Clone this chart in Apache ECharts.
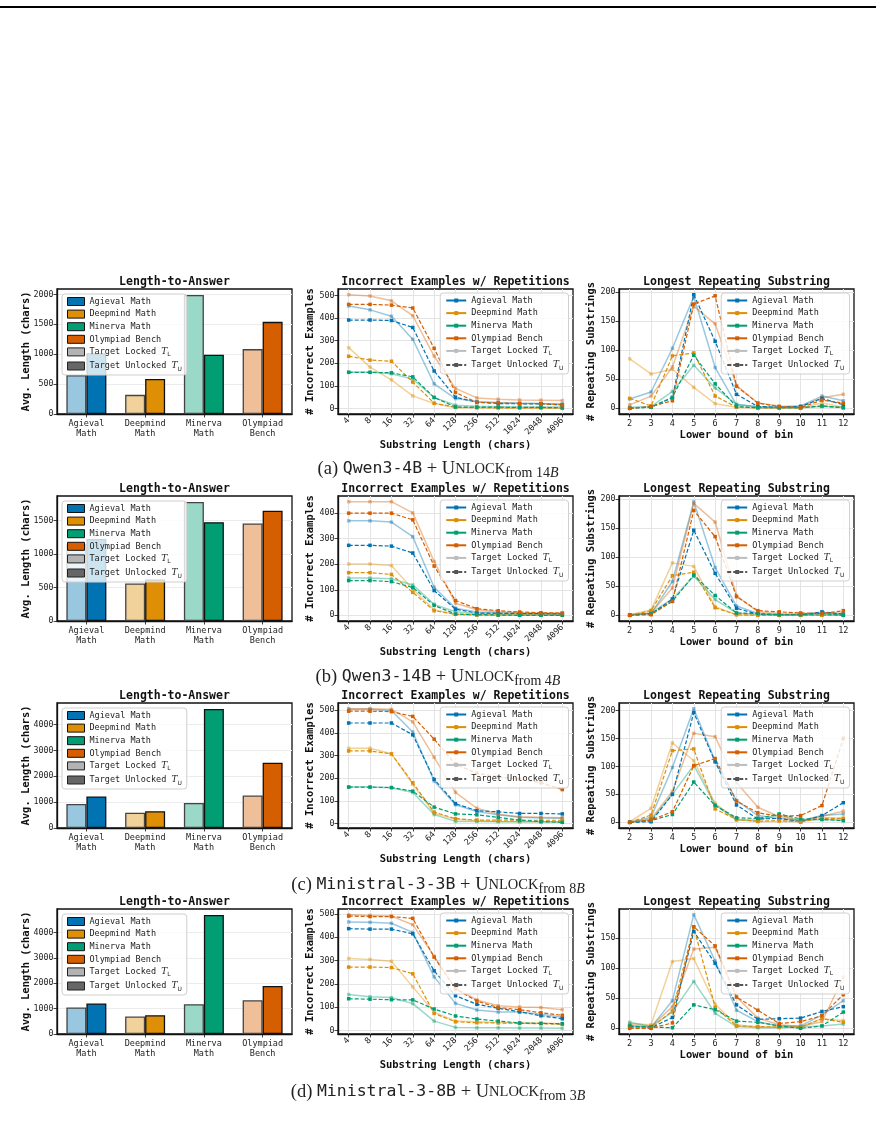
<!DOCTYPE html>
<html><head><meta charset="UTF-8">
<title>unlock-repetitions</title>
<script src="https://cdn.jsdelivr.net/npm/echarts@6/dist/echarts.min.js"></script>
<style>html,body{margin:0;padding:0;background:#fff}#chart{width:876px;height:1121px}</style>
</head>
<body>
<div id="chart"></div>
<script>
// ---- data ----
const benchNames = ['Agieval Math', 'Deepmind Math', 'Minerva Math', 'Olympiad Bench'];
const barCats = ['Agieval\nMath', 'Deepmind\nMath', 'Minerva\nMath', 'Olympiad\nBench'];
const substrLens = ['4', '8', '16', '32', '64', '128', '256', '512', '1024', '2048', '4096'];
const binLows = ['2', '3', '4', '5', '6', '7', '8', '9', '10', '11', '12'];

// length-to-answer (locked / unlocked), order = benchNames
const lenA_L = [650, 320, 1990, 1085];
const lenA_U = [1015, 585, 990, 1540];
const lenB_L = [1150, 560, 1776, 1455];
const lenB_U = [1225, 620, 1475, 1645];
const lenC_L = [932, 595, 971, 1256];
const lenC_U = [1217, 647, 4608, 2524];
const lenD_L = [1043, 686, 1175, 1333];
const lenD_U = [1201, 739, 4686, 1888];

// incorrect examples w/ repetitions, x = substrLens
const incA_ag_L = [453, 436, 408, 306, 109, 44, 31, 27, 24, 22, 21];
const incA_ag_U = [391, 391, 389, 358, 166, 50, 28, 22, 21, 21, 16];
const incA_dm_L = [269, 183, 127, 56, 22, 4, 3, 2, 1, 1, 1];
const incA_dm_U = [231, 214, 209, 117, 24, 6, 4, 3, 3, 3, 2];
const incA_mi_L = [161, 160, 154, 130, 49, 15, 10, 9, 7, 7, 7];
const incA_mi_U = [160, 160, 158, 140, 49, 7, 6, 6, 5, 5, 3];
const incA_ol_L = [503, 497, 476, 410, 232, 89, 47, 41, 38, 37, 35];
const incA_ol_U = [460, 460, 457, 444, 266, 71, 27, 25, 22, 21, 16];

const incB_ag_L = [370, 370, 365, 308, 110, 28, 13, 10, 8, 7, 7];
const incB_ag_U = [274, 274, 271, 244, 97, 24, 9, 8, 7, 7, 5];
const incB_dm_L = [201, 201, 195, 102, 22, 4, 1, 1, 1, 1, 1];
const incB_dm_U = [167, 167, 160, 90, 18, 4, 1, 1, 1, 1, 1];
const incB_mi_L = [146, 146, 143, 119, 43, 14, 7, 4, 3, 3, 1];
const incB_mi_U = [136, 136, 132, 109, 39, 5, 3, 1, 0, 0, 0];
const incB_ol_L = [445, 445, 445, 401, 211, 47, 22, 14, 10, 8, 8];
const incB_ol_U = [400, 400, 400, 374, 193, 58, 26, 18, 13, 10, 9];

const incC_ag_L = [503, 503, 498, 403, 188, 83, 54, 39, 28, 25, 24];
const incC_ag_U = [443, 443, 443, 391, 195, 88, 57, 52, 45, 45, 43];
const incC_dm_L = [332, 332, 308, 173, 46, 19, 13, 10, 9, 9, 8];
const incC_dm_U = [320, 320, 307, 180, 51, 22, 16, 16, 15, 15, 15];
const incC_mi_L = [162, 161, 158, 137, 40, 10, 10, 9, 8, 8, 7];
const incC_mi_U = [161, 161, 159, 143, 73, 43, 39, 28, 16, 9, 6];
const incC_ol_L = [506, 506, 503, 448, 292, 138, 68, 42, 31, 28, 26];
const incC_ol_U = [495, 495, 493, 472, 372, 262, 222, 206, 196, 180, 150];

const incD_ag_L = [466, 464, 460, 421, 230, 116, 88, 79, 79, 69, 57];
const incD_ag_U = [437, 435, 435, 415, 256, 149, 112, 95, 80, 63, 50];
const incD_dm_L = [309, 305, 297, 187, 78, 40, 37, 34, 33, 32, 29];
const incD_dm_U = [272, 272, 270, 243, 73, 37, 33, 32, 30, 29, 26];
const incD_mi_L = [154, 145, 141, 115, 40, 13, 11, 11, 10, 10, 9];
const incD_mi_U = [136, 134, 132, 131, 92, 62, 49, 40, 32, 30, 29];
const incD_ol_L = [497, 494, 491, 454, 318, 181, 131, 106, 101, 98, 89];
const incD_ol_U = [491, 489, 489, 481, 315, 178, 126, 98, 89, 76, 65];

// longest repeating substring, x = binLows
const lrsA_ag_L = [16, 28, 103, 192, 70, 6, 3, 2, 4, 21, 13];
const lrsA_ag_U = [0, 2, 18, 195, 115, 24, 3, 2, 3, 17, 6];
const lrsA_dm_L = [85, 59, 67, 36, 8, 2, 0, 0, 0, 9, 2];
const lrsA_dm_U = [17, 4, 90, 95, 21, 2, 1, 1, 1, 4, 1];
const lrsA_mi_L = [2, 3, 29, 74, 35, 7, 2, 1, 1, 3, 2];
const lrsA_mi_U = [0, 2, 19, 91, 42, 3, 1, 1, 1, 4, 1];
const lrsA_ol_L = [6, 21, 71, 175, 145, 39, 9, 4, 3, 18, 24];
const lrsA_ol_U = [0, 3, 13, 179, 193, 38, 9, 3, 1, 14, 9];

const lrsB_ag_L = [1, 3, 58, 195, 82, 16, 3, 1, 1, 5, 2];
const lrsB_ag_U = [1, 2, 28, 146, 72, 12, 2, 1, 1, 6, 2];
const lrsB_dm_L = [1, 9, 90, 84, 15, 1, 0, 0, 0, 0, 0];
const lrsB_dm_U = [0, 8, 68, 74, 13, 1, 0, 0, 0, 0, 0];
const lrsB_mi_L = [0, 4, 28, 67, 27, 4, 2, 1, 1, 1, 1];
const lrsB_mi_U = [0, 3, 24, 69, 34, 4, 3, 1, 1, 3, 0];
const lrsB_ol_L = [1, 4, 47, 192, 160, 34, 6, 3, 3, 3, 4];
const lrsB_ol_U = [0, 1, 24, 180, 135, 32, 8, 6, 4, 3, 8];

const lrsC_ag_L = [0, 9, 98, 203, 110, 39, 12, 7, 3, 12, 15];
const lrsC_ag_U = [0, 1, 50, 196, 108, 31, 6, 7, 1, 12, 35];
const lrsC_dm_L = [1, 25, 142, 110, 34, 5, 1, 2, 1, 9, 7];
const lrsC_dm_U = [0, 13, 128, 131, 24, 5, 2, 3, 1, 7, 7];
const lrsC_mi_L = [0, 4, 50, 102, 31, 4, 4, 13, 3, 5, 4];
const lrsC_mi_U = [0, 3, 14, 72, 30, 8, 7, 15, 6, 5, 3];
const lrsC_ol_L = [0, 6, 55, 159, 153, 71, 27, 10, 3, 11, 20];
const lrsC_ol_U = [0, 4, 19, 101, 114, 38, 17, 11, 12, 30, 150];

const lrsD_ag_L = [3, 2, 46, 189, 112, 30, 11, 4, 4, 22, 46];
const lrsD_ag_U = [3, 1, 18, 161, 108, 39, 15, 16, 17, 28, 36];
const lrsD_dm_L = [8, 6, 111, 116, 40, 6, 2, 3, 2, 16, 13];
const lrsD_dm_U = [1, 1, 29, 168, 35, 4, 3, 2, 2, 16, 10];
const lrsD_mi_L = [10, 3, 27, 78, 25, 3, 1, 1, 2, 4, 7];
const lrsD_mi_U = [4, 2, 1, 39, 31, 12, 10, 4, 0, 4, 27];
const lrsD_ol_L = [6, 3, 36, 132, 135, 52, 17, 6, 3, 11, 85];
const lrsD_ol_U = [0, 0, 9, 169, 137, 52, 30, 8, 11, 21, 56];

const rowTags = ['a', 'b', 'c', 'd'];
const rowModels = ['Qwen3-4B', 'Qwen3-14B', 'Ministral-3-3B', 'Ministral-3-8B'];
const rowFrom = ['14', '4', '8', '3'];

const rows = [
    { lenL: lenA_L, lenU: lenA_U, lenStep: 500,
      incL: [incA_ag_L, incA_dm_L, incA_mi_L, incA_ol_L], incU: [incA_ag_U, incA_dm_U, incA_mi_U, incA_ol_U],
      lrsL: [lrsA_ag_L, lrsA_dm_L, lrsA_mi_L, lrsA_ol_L], lrsU: [lrsA_ag_U, lrsA_dm_U, lrsA_mi_U, lrsA_ol_U] },
    { lenL: lenB_L, lenU: lenB_U, lenStep: 500,
      incL: [incB_ag_L, incB_dm_L, incB_mi_L, incB_ol_L], incU: [incB_ag_U, incB_dm_U, incB_mi_U, incB_ol_U],
      lrsL: [lrsB_ag_L, lrsB_dm_L, lrsB_mi_L, lrsB_ol_L], lrsU: [lrsB_ag_U, lrsB_dm_U, lrsB_mi_U, lrsB_ol_U] },
    { lenL: lenC_L, lenU: lenC_U, lenStep: 1000,
      incL: [incC_ag_L, incC_dm_L, incC_mi_L, incC_ol_L], incU: [incC_ag_U, incC_dm_U, incC_mi_U, incC_ol_U],
      lrsL: [lrsC_ag_L, lrsC_dm_L, lrsC_mi_L, lrsC_ol_L], lrsU: [lrsC_ag_U, lrsC_dm_U, lrsC_mi_U, lrsC_ol_U] },
    { lenL: lenD_L, lenU: lenD_U, lenStep: 1000,
      incL: [incD_ag_L, incD_dm_L, incD_mi_L, incD_ol_L], incU: [incD_ag_U, incD_dm_U, incD_mi_U, incD_ol_U],
      lrsL: [lrsD_ag_L, lrsD_dm_L, lrsD_mi_L, lrsD_ol_L], lrsU: [lrsD_ag_U, lrsD_dm_U, lrsD_mi_U, lrsD_ol_U] }
];

// ---- layout / style ----
const colors = ['#0173b2', '#de8f05', '#029e73', '#d55e00'];
const lightColors = ['#99c7e0', '#f2d29b', '#9ad8c7', '#eebf99'];
const mono = 'DejaVu Sans Mono';
const rowTop = [289, 496, 703, 909];
const colLeft = [57, 338, 619];
const plotW = 235, plotH = 125;
const captionY = [469, 677, 885, 1092];
const gridColor = '#e4e4e4';

const chart = echarts.init(document.getElementById('chart'));

// matplotlib style 5% margins
function padRange(arrs) {
    const all = [].concat(...arrs);
    const lo = Math.min(...all), hi = Math.max(...all);
    const pad = (hi - lo) * 0.05;
    return [lo - pad, hi + pad];
}
const plainNum = v => String(Math.round(v * 100) / 100);

const tLabel = { fontFamily: mono, fontSize: 8.5, color: '#222' };
const yLabel = { fontFamily: mono, fontSize: 8.3, color: '#222' };
const axName = { fontFamily: mono, fontSize: 10.5, fontWeight: 'bold', color: '#111' };
const richT = {
    t: { fontFamily: 'DejaVu Serif', fontStyle: 'italic', fontSize: 9, color: '#222' },
    s: { fontFamily: 'DejaVu Sans', fontSize: 6, color: '#222', verticalAlign: 'bottom', lineHeight: 12 }
};
const legendFmt = name => name === 'Target Locked' ? 'Target Locked {t|T}{s|L}'
    : name === 'Target Unlocked' ? 'Target Unlocked {t|T}{s|U}' : name;
const legendBase = {
    orient: 'vertical', selectedMode: false, itemGap: 3.6,
    padding: [3, 5, 3, 5], backgroundColor: 'rgba(255,255,255,0.8)',
    borderColor: '#cfcfcf', borderWidth: 1, borderRadius: 3,
    textStyle: Object.assign({}, tLabel, { rich: richT }), formatter: legendFmt
};

const grids = [], xAxes = [], yAxes = [], series = [], legends = [], graphics = [];

graphics.push({ type: 'line', shape: { x1: 0, y1: 7, x2: 876, y2: 7 }, style: { stroke: '#000', lineWidth: 2 } });

function addGrid(r, c) {
    grids.push({ left: colLeft[c], top: rowTop[r], width: plotW, height: plotH,
        show: true, borderColor: '#111', borderWidth: 1.3, backgroundColor: 'transparent' });
}
function addTitle(r, c, text) {
    graphics.push({ type: 'text', x: colLeft[c] + plotW / 2, y: rowTop[r] - 6.5, z: 10,
        style: { text: text, fill: '#111', font: 'bold 11.5px "DejaVu Sans Mono"', align: 'center', verticalAlign: 'middle' } });
}
function valueAxis(p, range, name, gap, extra) {
    return Object.assign({
        type: 'value', gridIndex: p, min: range[0], max: range[1], splitNumber: 5,
        name: name, nameLocation: 'middle', nameGap: gap, nameMoveOverlap: false, nameTextStyle: axName,
        axisLine: { show: true, lineStyle: { color: '#111', width: 1.3 } },
        axisTick: { show: true, length: 3.5, lineStyle: { color: '#111', width: 0.8 } },
        axisLabel: Object.assign({ margin: 3.5, showMinLabel: false, showMaxLabel: false, formatter: plainNum }, yLabel),
        splitLine: { show: true, showMinLine: false, showMaxLine: false, lineStyle: { color: gridColor, width: 1 } }
    }, extra || {});
}
function catAxis(p, data, name, gap, rotate) {
    return {
        type: 'category', gridIndex: p, data: data,
        name: name, nameLocation: 'middle', nameGap: gap, nameTextStyle: axName,
        axisLine: { show: true, onZero: false, lineStyle: { color: '#111', width: 1.3 } },
        axisTick: { show: true, alignWithLabel: true, interval: 0, length: 3.5, lineStyle: { color: '#111', width: 0.8 } },
        axisLabel: Object.assign({ interval: 0, rotate: rotate || 0, margin: 5, lineHeight: 10 }, tLabel),
        splitLine: { show: !!name, interval: 0, alignWithLabel: true, lineStyle: { color: gridColor, width: 1 } }
    };
}
function addLines(p, lockedArrs, unlockedArrs) {
    lockedArrs.forEach((arr, i) => series.push({
        type: 'line', name: 'L' + p + '_' + i, xAxisIndex: p, yAxisIndex: p, data: arr, silent: true, z: 2,
        symbol: 'rect', symbolSize: 3.5,
        lineStyle: { color: colors[i], width: 1.5, opacity: 0.4 }, itemStyle: { color: colors[i], opacity: 0.4 }
    }));
    unlockedArrs.forEach((arr, i) => series.push({
        type: 'line', name: 'U' + p + '_' + i, xAxisIndex: p, yAxisIndex: p, data: arr, silent: true, z: 3,
        symbol: 'rect', symbolSize: 3.5,
        lineStyle: { color: colors[i], width: 1.2, type: [4, 2] }, itemStyle: { color: colors[i] }
    }));
}
const legendNames = benchNames.concat(['Target Locked', 'Target Unlocked']);

rows.forEach((row, r) => {
    // --- length-to-answer bars
    let p = r * 3;
    addGrid(r, 0);
    addTitle(r, 0, 'Length-to-Answer');
    const barMax = Math.max(...row.lenL, ...row.lenU) * 1.05;
    xAxes.push(catAxis(p, barCats, '', 0, 0));
    yAxes.push(valueAxis(p, [0, barMax], 'Avg. Length (chars)', 25, {
        interval: row.lenStep,
        axisLabel: Object.assign({ margin: 3.5, showMaxLabel: false, formatter: plainNum }, yLabel),
        splitLine: { show: true, showMaxLine: false, lineStyle: { color: '#ececec' } } }));
    series.push({
        type: 'bar', name: 'lenL' + r, xAxisIndex: p, yAxisIndex: p, barWidth: 20, barGap: '0%', silent: true,
        itemStyle: { borderColor: '#444', borderWidth: 1.3 },
        data: row.lenL.map((v, i) => ({ value: v, itemStyle: { color: lightColors[i] } }))
    });
    series.push({
        type: 'bar', name: 'lenU' + r, xAxisIndex: p, yAxisIndex: p, barWidth: 20, barGap: '0%', silent: true,
        itemStyle: { borderColor: '#111', borderWidth: 1.3 },
        data: row.lenU.map((v, i) => ({ value: v, itemStyle: { color: colors[i] } }))
    });
    legends.push(Object.assign({}, legendBase, {
        left: colLeft[0] + 5, top: rowTop[r] + 5, itemWidth: 17, itemHeight: 8,
        data: benchNames.map((n, i) => ({ name: n, icon: 'rect', itemStyle: { color: colors[i], borderColor: '#111', borderWidth: 1 } }))
            .concat([{ name: 'Target Locked', icon: 'rect', itemStyle: { color: '#b3b3b3', borderColor: '#222', borderWidth: 1 } },
                     { name: 'Target Unlocked', icon: 'rect', itemStyle: { color: '#666', borderColor: '#222', borderWidth: 1 } }])
    }));

    // --- incorrect examples
    p = r * 3 + 1;
    addGrid(r, 1);
    addTitle(r, 1, 'Incorrect Examples w/ Repetitions');
    xAxes.push(catAxis(p, substrLens, 'Substring Length (chars)', 23, 45));
    yAxes.push(valueAxis(p, padRange(row.incL.concat(row.incU)), '# Incorrect Examples', 22));
    addLines(p, row.incL, row.incU);
    legends.push(Object.assign({}, legendBase, {
        right: 876 - (colLeft[1] + plotW - 4.5), top: rowTop[r] + 4, itemWidth: 20, itemHeight: 5, data: legendNames
    }));

    // --- longest repeating substring
    p = r * 3 + 2;
    addGrid(r, 2);
    addTitle(r, 2, 'Longest Repeating Substring');
    xAxes.push(catAxis(p, binLows, 'Lower bound of bin', 12, 0));
    yAxes.push(valueAxis(p, padRange(row.lrsL.concat(row.lrsU)), '# Repeating Substrings', 22));
    addLines(p, row.lrsL, row.lrsU);
    legends.push(Object.assign({}, legendBase, {
        right: 876 - (colLeft[2] + plotW - 4.5), top: rowTop[r] + 4, itemWidth: 20, itemHeight: 5, data: legendNames
    }));

    // --- caption
    graphics.push({ type: 'text', x: 438, y: captionY[r], z: 10, style: {
        text: '{p|(' + rowTags[r] + ') }{m|' + rowModels[r] + '}{p| + U}{sc|NLOCK}{sub|from ' + rowFrom[r] + '}{subi|B}',
        align: 'center', verticalAlign: 'middle',
        rich: {
            p: { fontFamily: 'Liberation Serif', fontSize: 18.5, fill: '#222', lineHeight: 22 },
            m: { fontFamily: mono, fontSize: 16.5, fill: '#222', lineHeight: 22 },
            sc: { fontFamily: 'Liberation Serif', fontSize: 14.5, fill: '#222', lineHeight: 22 },
            sub: { fontFamily: 'Liberation Serif', fontSize: 14, fill: '#222', lineHeight: 14, verticalAlign: 'bottom' },
            subi: { fontFamily: 'Liberation Serif', fontStyle: 'italic', fontSize: 14, fill: '#222', lineHeight: 14, verticalAlign: 'bottom' }
        }
    } });
});

// legend-only series (empty data)
benchNames.forEach((n, i) => series.push({
    type: 'line', name: n, data: [], xAxisIndex: 1, yAxisIndex: 1, symbol: 'rect', symbolSize: 4,
    lineStyle: { color: colors[i], width: 1.5 }, itemStyle: { color: colors[i] }
}));
series.push({ type: 'line', name: 'Target Locked', data: [], xAxisIndex: 1, yAxisIndex: 1, symbol: 'rect', symbolSize: 4,
    lineStyle: { color: '#bdbdbd', width: 1.5 }, itemStyle: { color: '#bdbdbd' } });
series.push({ type: 'line', name: 'Target Unlocked', data: [], xAxisIndex: 1, yAxisIndex: 1, symbol: 'rect', symbolSize: 4,
    lineStyle: { color: '#555', width: 1.2, type: [4, 2] }, itemStyle: { color: '#555' } });

chart.setOption({
    animation: false,
    backgroundColor: '#fff',
    grid: grids,
    xAxis: xAxes,
    yAxis: yAxes,
    legend: legends,
    series: series,
    graphic: graphics
});
</script>
</body></html>
